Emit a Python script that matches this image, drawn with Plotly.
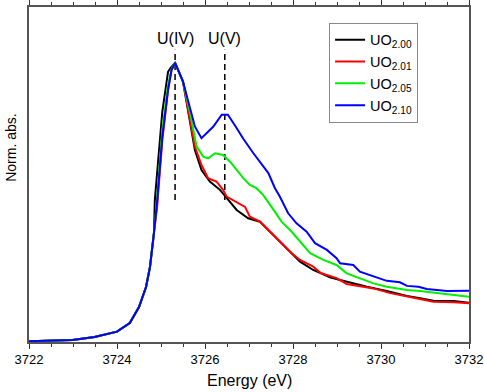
import plotly.graph_objects as go

# Shared pre-edge (eV, normalized absorbance)
pre_E = [3722.00, 3722.47, 3722.99, 3723.49, 3724.00, 3724.29, 3724.50, 3724.66, 3724.75, 3724.84]
pre_y = [0.003, 0.004, 0.007, 0.018, 0.037, 0.068, 0.125, 0.197, 0.269, 0.391]

e_uo200 = [3724.86, 3725.03, 3725.16, 3725.22, 3725.32, 3725.50, 3725.63, 3725.77, 3725.92, 3726.11,
           3726.34, 3726.49, 3726.72, 3726.98, 3727.25, 3727.48, 3727.78, 3728.16, 3728.46, 3728.84,
           3729.07, 3729.37, 3729.68, 3730.13, 3730.59, 3730.89, 3731.19, 3731.65, 3732.00]
y_uo200 = [0.509, 0.825, 0.968, 0.982, 1.000, 0.933, 0.814, 0.688, 0.616, 0.575,
           0.545, 0.515, 0.473, 0.443, 0.431, 0.395, 0.348, 0.288, 0.258, 0.232,
           0.222, 0.210, 0.198, 0.183, 0.165, 0.157, 0.148, 0.147, 0.141]

e_uo201 = [3724.91, 3725.03, 3725.16, 3725.24, 3725.32, 3725.50, 3725.63, 3725.77, 3725.92, 3726.07,
           3726.26, 3726.41, 3726.49, 3726.68, 3726.91, 3727.02, 3727.25, 3727.48, 3727.70, 3727.97,
           3728.16, 3728.46, 3728.63, 3728.99, 3729.22, 3729.52, 3729.83, 3730.21, 3730.51, 3730.89,
           3731.19, 3731.65, 3732.00]
y_uo201 = [0.480, 0.724, 0.903, 0.975, 1.000, 0.933, 0.814, 0.700, 0.634, 0.587,
           0.575, 0.545, 0.521, 0.503, 0.484, 0.449, 0.431, 0.395, 0.359, 0.318,
           0.294, 0.270, 0.247, 0.229, 0.208, 0.201, 0.192, 0.175, 0.165, 0.154,
           0.144, 0.142, 0.139]

e_uo205 = [3724.91, 3725.03, 3725.16, 3725.25, 3725.32, 3725.50, 3725.66, 3725.81, 3725.96, 3726.07,
           3726.23, 3726.41, 3726.57, 3726.87, 3727.02, 3727.17, 3727.32, 3727.48, 3727.74, 3727.97,
           3728.16, 3728.39, 3728.69, 3728.99, 3729.22, 3729.52, 3729.83, 3730.13, 3730.59, 3730.89,
           3731.34, 3732.00]
y_uo205 = [0.509, 0.760, 0.921, 0.982, 1.000, 0.933, 0.821, 0.700, 0.664, 0.658,
           0.676, 0.670, 0.646, 0.587, 0.563, 0.551, 0.527, 0.491, 0.431, 0.395,
           0.359, 0.318, 0.294, 0.276, 0.246, 0.228, 0.210, 0.198, 0.186, 0.183,
           0.175, 0.162]

e_uo210 = [3724.91, 3725.03, 3725.16, 3725.24, 3725.32, 3725.50, 3725.63, 3725.77, 3725.92, 3726.19,
           3726.38, 3726.52, 3726.70, 3726.87, 3727.10, 3727.29, 3727.44, 3727.59, 3727.70, 3727.89,
           3728.08, 3728.31, 3728.50, 3728.77, 3728.99, 3729.07, 3729.37, 3729.52, 3729.83, 3730.13,
           3730.43, 3730.59, 3730.85, 3731.04, 3731.50, 3732.00]
y_uo210 = [0.500, 0.736, 0.903, 0.975, 1.000, 0.933, 0.857, 0.772, 0.730, 0.772,
           0.814, 0.814, 0.771, 0.728, 0.676, 0.634, 0.605, 0.551, 0.521, 0.461,
           0.425, 0.395, 0.354, 0.330, 0.300, 0.282, 0.276, 0.252, 0.234, 0.219,
           0.214, 0.201, 0.198, 0.190, 0.183, 0.184]

series_names = ["UO<sub>2.00</sub>", "UO<sub>2.01</sub>", "UO<sub>2.05</sub>", "UO<sub>2.10</sub>"]
series_colors = ["#000000", "#ff0000", "#00f000", "#0000ff"]
series_E = [e_uo200, e_uo201, e_uo205, e_uo210]
series_y = [y_uo200, y_uo201, y_uo205, y_uo210]

marker_E = [3725.32, 3726.45]
marker_labels = ["U(IV)", "U(V)"]
marker_y0, marker_y1, label_y = 0.509, 1.047, 1.086

x_ticks = [3722, 3724, 3726, 3728, 3730, 3732]

fig = go.Figure()
for name, col, E, y in zip(series_names, series_colors, series_E, series_y):
    fig.add_trace(go.Scatter(x=pre_E + E, y=pre_y + y, mode="lines", name=name,
                             line=dict(color=col, width=2)))

for xe, lab in zip(marker_E, marker_labels):
    fig.add_shape(type="line", x0=xe, x1=xe, y0=marker_y0, y1=marker_y1,
                  line=dict(color="black", width=1.5, dash="6px,4px"), layer="below")
    fig.add_annotation(x=xe, y=label_y, text=lab, showarrow=False,
                       font=dict(size=16, color="black"))

fig.add_annotation(xref="paper", yref="paper", x=0.5, y=-0.083, yanchor="top",
                   text="Energy (eV)", showarrow=False, font=dict(size=16))
fig.add_annotation(xref="paper", yref="paper", x=-0.018, y=0.58, xanchor="right",
                   text="Norm. abs.", textangle=-90, showarrow=False, font=dict(size=14))

fig.update_layout(
    width=484, height=392,
    margin=dict(l=29, r=15, t=7, b=50),
    plot_bgcolor="white", paper_bgcolor="white",
    font=dict(family="Liberation Sans, Arial", color="black"),
    showlegend=True,
    legend=dict(x=0.682, y=0.953, xanchor="left", yanchor="top",
                bordercolor="#888888", borderwidth=1, bgcolor="white",
                font=dict(size=14.5), tracegroupgap=0, itemwidth=30),
    xaxis=dict(range=[3722, 3732], tickvals=x_ticks, ticks="outside", ticklen=5,
               tickwidth=1, tickcolor="#333", showline=True, linecolor="#555",
               linewidth=1.5, mirror="ticks", showgrid=False, zeroline=False,
               tickfont=dict(size=13), automargin=False,
               minor=dict(dtick=0.5, ticks="outside", ticklen=3, tickcolor="#333", showgrid=False)),
    yaxis=dict(range=[0, 1.2], showticklabels=False, ticks="", showline=True,
               linecolor="#555", linewidth=1.5, mirror=True, showgrid=False,
               zeroline=False, automargin=False),
)

fig.write_html("out.html", config={"displayModeBar": False},
               post_script="document.body.style.margin='0';document.body.style.overflow='hidden';")
